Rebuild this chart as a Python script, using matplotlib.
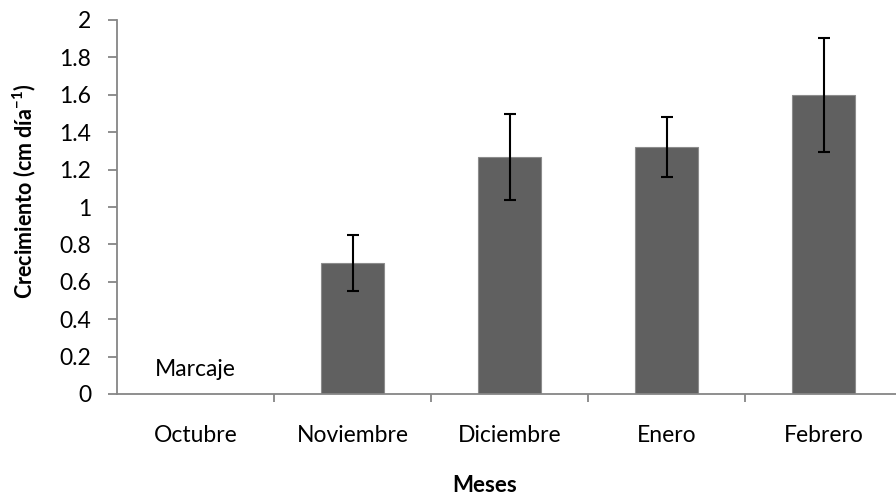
import matplotlib
matplotlib.use("Agg")
import matplotlib.pyplot as plt
import numpy as np

# Monthly growth data
meses = ["Octubre", "Noviembre", "Diciembre", "Enero", "Febrero"]
crecimiento = [0.0, 0.70, 1.27, 1.32, 1.60]
error = [0.0, 0.15, 0.23, 0.16, 0.305]
yticks = [0, 0.2, 0.4, 0.6, 0.8, 1, 1.2, 1.4, 1.6, 1.8, 2]
ytick_labels = ["0", "0.2", "0.4", "0.6", "0.8", "1", "1.2", "1.4", "1.6", "1.8", "2"]

plt.rcParams["font.family"] = ["Lato", "DejaVu Sans"]
plt.rcParams["mathtext.fontset"] = "custom"
plt.rcParams["mathtext.rm"] = "Lato:bold"
plt.rcParams["mathtext.it"] = "Lato:bold"
plt.rcParams["mathtext.bf"] = "Lato:bold"

W, H = 896, 499
fig = plt.figure(figsize=(W / 100, H / 100), dpi=100)
ax = fig.add_axes([117 / W, 105 / H, 785 / W, 374 / H])

x = np.arange(len(meses))
ax.bar(x, crecimiento, width=0.4, color="#606060", edgecolor="#8c8c8c", linewidth=0.8, zorder=2)
mask = np.array(crecimiento) > 0
ax.errorbar(x[mask], np.array(crecimiento)[mask], yerr=np.array(error)[mask],
            fmt="none", ecolor="black", elinewidth=1.5, capsize=4.5, capthick=1.5, zorder=3)

ax.set_xlim(-0.5, len(meses) - 0.5)
ax.set_ylim(0, 2)

gray = "#868686"
for s in ["top", "right"]:
    ax.spines[s].set_visible(False)
for s in ["left", "bottom"]:
    ax.spines[s].set_color(gray)
    ax.spines[s].set_linewidth(1.3)

ax.set_yticks(yticks)
ax.set_yticklabels(ytick_labels)
ax.tick_params(axis="y", direction="out", length=6.5, width=1.3, color=gray,
               labelsize=16.5, pad=12, labelcolor="black")

ax.set_xticks(x)
ax.set_xticklabels(meses)
ax.tick_params(axis="x", which="major", length=0, labelsize=16.5, pad=22, labelcolor="black")
ax.set_xticks(np.arange(0.5, len(meses) - 0.5, 1.0), minor=True)
ax.tick_params(axis="x", which="minor", direction="out", length=6, width=1.3, color=gray)

ax.text(0, 0.13, "Marcaje", ha="center", va="center", fontsize=16.5)

fig.text(485 / W, 1 - 485 / H, "Meses", ha="center", va="center",
         fontsize=16, fontweight="bold")
fig.text(24 / W, 1 - 191 / H, r"Crecimiento (cm día$^{-1}$)", ha="center", va="center",
         rotation=90, fontsize=15.5, fontweight="bold")

fig.savefig("out.png", dpi=100)
